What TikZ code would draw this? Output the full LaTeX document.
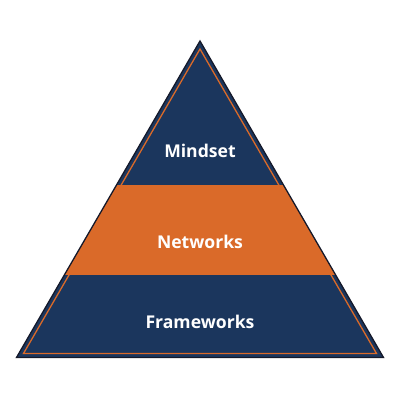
\documentclass[tikz,border=0pt]{standalone}
\usepackage{fontspec}
\setmainfont{Open Sans}
\definecolor{navy}{HTML}{1B365D}
\definecolor{orng}{HTML}{DA6A29}
\definecolor{edge}{HTML}{15192A}
\tikzset{
  label/.style={text=white, font=\fontsize{17.6}{20}\selectfont\bfseries, inner sep=0pt, anchor=center}
}
\begin{document}
\begin{tikzpicture}[x=1pt,y=-1pt]
\useasboundingbox (0,0) rectangle (400,400);
\coordinate (A) at (200,41);
\coordinate (L) at (16.5,357.5);
\coordinate (R) at (383.5,357.5);
\coordinate (iA) at (200,49);
\coordinate (iL) at (23.5,353.5);
\coordinate (iR) at (376.5,353.5);
\fill[navy] (A) -- (L) -- (R) -- cycle;
\begin{scope}
  \clip (A) -- (L) -- (R) -- cycle;
  \fill[orng] (0,185) rectangle (400,275);
\end{scope}
\draw[orng, line width=1.3pt, line join=miter] (iA) -- (iL) -- (iR) -- cycle;
\draw[edge, line width=1.3pt, line join=miter] (A) -- (L) -- (R) -- cycle;
\node[label] (mindset) at (200,151) {Mindset};
\node[label] (networks) at (200,242) {Networks};
\node[label] (frameworks) at (200,322) {Frameworks};
\end{tikzpicture}
\end{document}
